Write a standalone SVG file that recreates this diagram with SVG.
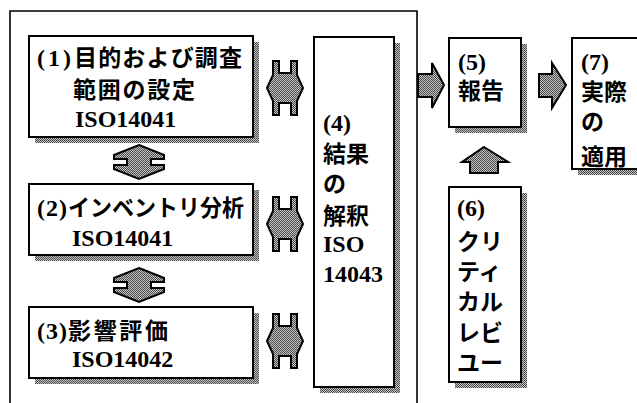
<svg xmlns="http://www.w3.org/2000/svg" xmlns:xlink="http://www.w3.org/1999/xlink" width="637" height="403" viewBox="0 0 637 403">
<style>
.box{fill:#fff;stroke:#000;stroke-width:2}
.shadow{fill:url(#hatch)}
.arrow{fill:url(#hatch);stroke:#000;stroke-width:2;stroke-linejoin:miter}
.frame{fill:none;stroke:#000;stroke-width:1.6}
.jp{font-family:"Noto Sans CJK JP",sans-serif;font-weight:700;font-size:23px;fill:#000}
.se{font-family:"Liberation Serif","DejaVu Serif",serif;font-weight:700;font-size:24px;fill:#000}
</style>
<defs>
<pattern id="hatch" width="2" height="2" patternUnits="userSpaceOnUse">
<rect width="2" height="2" fill="#c4c4c4"/>
<rect width="1" height="1" fill="#4a4a4a"/>
<rect x="1" y="1" width="1" height="1" fill="#4a4a4a"/>
</pattern>
<polygon id="dblh" class="arrow" points="-18,0 -12,-13 -12,-27 -6,-27 -6,-15 6,-15 6,-27 12,-27 12,-13 18,0 12,13 12,27 6,27 6,15 -6,15 -6,27 -12,27 -12,13"/>
<polygon id="dblv" class="arrow" points="0,-17 25,-7 25,-3 12,-3 12,3 25,3 25,7 0,17 -25,7 -25,3 -12,3 -12,-3 -25,-3 -25,-7"/>
</defs>
<rect width="637" height="403" fill="#fff"/>

<path class="frame" d="M10,403 V11 H417 V403"/>

<g id="node1">
<rect class="shadow" x="35" y="42" width="224" height="101"/>
<rect class="box" x="29" y="36" width="224" height="101"/>
<text x="37" y="66" class="se" font-family="Liberation Serif, serif" textLength="34">(1)</text>
<text x="74" y="66" class="jp" textLength="168">目的および調査</text>
<text x="73" y="98" class="jp" textLength="122">範囲の設定</text>
<text x="75" y="127" class="se" font-family="Liberation Serif, serif">ISO14041</text>
</g>

<g id="node2">
<rect class="shadow" x="35" y="190" width="224" height="71"/>
<rect class="box" x="29" y="184" width="224" height="71"/>
<text x="37" y="216" class="se" font-family="Liberation Serif, serif" textLength="30">(2)</text>
<text x="68" y="216" class="jp" font-size="22" textLength="176" lengthAdjust="spacingAndGlyphs">インベントリ分析</text>
<text x="72" y="246" class="se" font-family="Liberation Serif, serif">ISO14041</text>
</g>

<g id="node3">
<rect class="shadow" x="35" y="313" width="224" height="71"/>
<rect class="box" x="29" y="307" width="224" height="71"/>
<text x="37" y="339" class="se" font-family="Liberation Serif, serif" textLength="30">(3)</text>
<text x="68" y="339" class="jp" textLength="100">影響評価</text>
<text x="72" y="367" class="se" font-family="Liberation Serif, serif">ISO14042</text>
</g>

<g id="node4">
<rect class="shadow" x="320" y="43" width="80" height="350"/>
<rect class="box" x="314" y="37" width="80" height="350"/>
<text x="323" y="131" class="se" font-family="Liberation Serif, serif">(4)</text>
<text x="323" y="162" class="jp">結果</text>
<text x="323" y="192" class="jp">の</text>
<text x="323" y="224" class="jp">解釈</text>
<text x="323" y="252" class="se" font-family="Liberation Serif, serif">ISO</text>
<text x="323" y="282" class="se" font-family="Liberation Serif, serif">14043</text>
</g>

<g id="node5">
<rect class="shadow" x="455" y="44" width="72" height="89"/>
<rect class="box" x="449" y="38" width="72" height="89"/>
<text x="458" y="70" class="se" font-family="Liberation Serif, serif">(5)</text>
<text x="458" y="99" class="jp">報告</text>
</g>

<g id="node6">
<rect class="shadow" x="455" y="193" width="72" height="195"/>
<rect class="box" x="449" y="187" width="72" height="195"/>
<text x="457" y="216" class="se" font-family="Liberation Serif, serif">(6)</text>
<text x="457" y="250" class="jp">クリ</text>
<text x="457" y="280" class="jp">ティ</text>
<text x="457" y="310" class="jp">カル</text>
<text x="457" y="341" class="jp">レビ</text>
<text x="457" y="371" class="jp">ユー</text>
</g>

<g id="node7">
<rect class="shadow" x="578" y="44" width="80" height="131"/>
<rect class="box" x="572" y="38" width="80" height="131"/>
<text x="581" y="70" class="se" font-family="Liberation Serif, serif">(7)</text>
<text x="581" y="100" class="jp">実際</text>
<text x="581" y="130" class="jp">の</text>
<text x="581" y="165" class="jp">適用</text>
</g>

<g id="connectors">
<use xlink:href="#dblv" href="#dblv" x="139" y="162"/>
<use xlink:href="#dblv" href="#dblv" x="139" y="285"/>
<use xlink:href="#dblh" href="#dblh" x="285" y="88"/>
<use xlink:href="#dblh" href="#dblh" x="285" y="224"/>
<use xlink:href="#dblh" href="#dblh" x="285" y="341"/>
<polygon class="arrow" points="418,74 432,74 432,63 444,85 432,108 432,97 418,97"/>
<polygon class="arrow" points="539,74 552,74 552,63 566,85 552,108 552,97 539,97"/>
<polygon class="arrow" points="484,147 508,162 498,162 498,173 470,173 470,162 462,162"/>
</g>
</svg>
